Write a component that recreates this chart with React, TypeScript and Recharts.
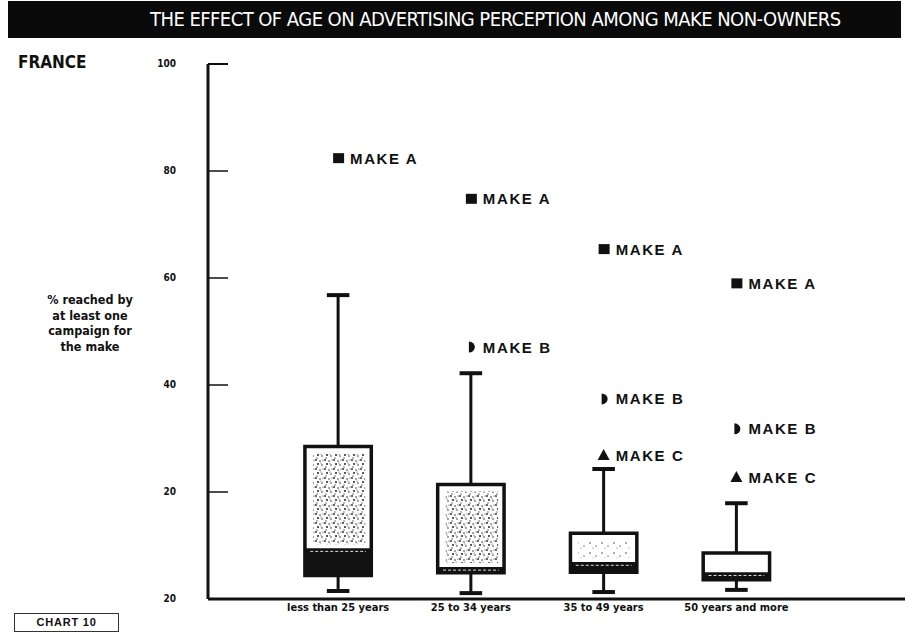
import { ComposedChart, XAxis, YAxis, Scatter, ReferenceArea, ReferenceLine } from 'recharts';

const ageGroups = ['less than 25 years', '25 to 34 years', '35 to 49 years', '50 years and more'];
const whiskerLow = [1.5, 1.1, 1.3, 1.7];
const boxLow = [4.4, 4.9, 5.0, 3.6];
const boxMid = [9.5, 6.0, 6.9, 5.0];
const boxHigh = [28.5, 21.4, 12.3, 8.6];
const whiskerHigh = [56.8, 42.2, 24.3, 17.9];

const makeNames = ['MAKE A', 'MAKE B', 'MAKE C'];
const makeA = [82.4, 74.8, 65.4, 59.0];
const makeB = [null, 47.1, 37.4, 31.8];
const makeC = [null, null, 26.9, 22.8];

const yTicks = [0, 20, 40, 60, 80, 100];
const yTickLabels = ['20', '20', '40', '60', '80', '100'];

// texture of the upper part of each box (print stipple)
const boxTexture = ['url(#dense)', 'url(#dense)', 'url(#light)', 'url(#sparse)'];

const toPoints = (vals: (number | null)[]) =>
  vals.map((v, i) => (v == null ? null : { x: i + 1, y: v })).filter(Boolean) as { x: number; y: number }[];

const condensed = '"DejaVu Sans Condensed", "DejaVu Sans", sans-serif';
const arial = '"Liberation Sans", Arial, sans-serif';

function markerLabel(kind: number) {
  return (props: any) => {
    const { cx, cy } = props;
    let mark;
    if (kind === 0) mark = <rect x={cx - 5} y={cy - 5} width={11} height={10} fill="#111" />;
    else if (kind === 1)
      mark = <path d={`M${cx - 2},${cy - 5.5} A6,5.5 0 0 1 ${cx - 2},${cy + 5.5} Z`} fill="#111" />;
    else mark = <path d={`M${cx - 6},${cy + 5} L${cx + 6},${cy + 5} L${cx},${cy - 6} Z`} fill="#111" />;
    return (
      <g>
        {mark}
        <text x={cx + 12} y={cy + 5.5} fontFamily={arial} fontWeight="bold" fontSize={15} letterSpacing={1.6} fill="#111">
          {makeNames[kind]}
        </text>
      </g>
    );
  };
}

function YTick(props: any) {
  const { x, y, payload } = props;
  const i = yTicks.indexOf(payload.value);
  return (
    <g>
      {payload.value !== 0 && <line x1={x} x2={x + 20} y1={y} y2={y} stroke="#111" strokeWidth={1.5} />}
      <text x={x - 32} y={y + 3} textAnchor="end" fontFamily={condensed} fontWeight="bold" fontSize={10} fill="#111">
        {yTickLabels[i]}
      </text>
    </g>
  );
}

function XTick(props: any) {
  const { x, y, payload } = props;
  return (
    <text x={x} y={y + 10} textAnchor="middle" fontFamily={condensed} fontWeight="bold" fontSize={11} fill="#111">
      {ageGroups[payload.value - 1]}
    </text>
  );
}

function UpperBox(fill: string) {
  return (props: any) => {
    const { x, y, width, height } = props;
    return (
      <g>
        <rect x={x} y={y} width={width} height={height} fill="#fff" />
        <rect x={x + 8} y={y + 7} width={Math.max(0, width - 14)} height={Math.max(0, height - 11)} fill={fill} />
      </g>
    );
  };
}

export default function App() {
  const hw = 0.25;
  const cap = 0.085;
  return (
    <div style={{ position: 'relative', width: 909, height: 638, background: '#fff' }}>
      <style>{`body{margin:0}`}</style>
      <div
        style={{
          position: 'absolute', left: 8, top: 1, width: 893, height: 37, background: '#0a0a0a',
        }}
      />
      <div
        style={{
          position: 'absolute', left: 150, top: 7, color: '#fff', fontFamily: condensed, fontSize: 20,
          whiteSpace: 'nowrap', letterSpacing: -0.55,
        }}
      >
        THE EFFECT OF AGE ON ADVERTISING PERCEPTION AMONG MAKE NON-OWNERS
      </div>
      <div style={{ position: 'absolute', left: 18, top: 52, fontFamily: condensed, fontWeight: 'bold', fontSize: 17, color: '#111' }}>
        FRANCE
      </div>
      <div
        style={{
          position: 'absolute', left: 40, top: 292, width: 100, textAlign: 'center', fontFamily: condensed,
          fontWeight: 'bold', fontSize: 12.5, lineHeight: '15.5px', color: '#111',
        }}
      >
        % reached by<br />at least one<br />campaign for<br />the make
      </div>
      <div
        style={{
          position: 'absolute', left: 14, top: 613, width: 103, height: 17, border: '1px solid #333',
          textAlign: 'center', fontFamily: arial, fontWeight: 'bold', fontSize: 11, lineHeight: '17px',
          letterSpacing: 0.8, color: '#111',
        }}
      >
        CHART 10
      </div>
      <div style={{ position: 'absolute', left: 0, top: 0 }}>
        <ComposedChart width={909} height={638} margin={{ top: 64, right: 4, bottom: 9, left: 148 }}>
          <defs>
            <pattern id="dense" width="9" height="9" patternUnits="userSpaceOnUse">
              <rect width="9" height="9" fill="#fff" />
              <circle cx="1" cy="1" r="0.9" fill="#222" />
              <circle cx="5" cy="2" r="0.8" fill="#333" />
              <circle cx="3" cy="5" r="1" fill="#222" />
              <circle cx="7" cy="6" r="0.8" fill="#333" />
              <circle cx="2" cy="8" r="0.7" fill="#444" />
              <circle cx="6" cy="4" r="0.6" fill="#444" />
              <circle cx="8" cy="1" r="0.6" fill="#333" />
            </pattern>
            <pattern id="light" width="12" height="10" patternUnits="userSpaceOnUse">
              <rect width="12" height="10" fill="#fff" />
              <circle cx="2" cy="3" r="0.8" fill="#444" />
              <circle cx="8" cy="6" r="0.7" fill="#555" />
              <circle cx="5" cy="8" r="0.6" fill="#666" />
            </pattern>
            <pattern id="sparse" width="16" height="12" patternUnits="userSpaceOnUse">
              <rect width="16" height="12" fill="#fff" />
              <circle cx="4" cy="5" r="0.6" fill="#777" />
            </pattern>
          </defs>
          <XAxis
            type="number"
            dataKey="x"
            domain={[0.02, 5.27]}
            ticks={[1, 2, 3, 4]}
            allowDataOverflow
            height={30}
            axisLine={{ stroke: '#111', strokeWidth: 3 }}
            tickLine={false}
            tickSize={0}
            tick={<XTick />}
          />
          <YAxis
            type="number"
            dataKey="y"
            domain={[0, 100]}
            ticks={yTicks}
            width={60}
            axisLine={{ stroke: '#111', strokeWidth: 3 }}
            tickLine={false}
            tickSize={0}
            tickMargin={0}
            tick={<YTick />}
          />
          <ReferenceLine segment={[{ x: 0.02, y: 100 }, { x: 0.17, y: 100 }]} stroke="#111" strokeWidth={2} />
          {ageGroups.map((_, i) => {
            const c = i + 1;
            return [
              <ReferenceLine key={`wh${i}`} segment={[{ x: c, y: boxHigh[i] }, { x: c, y: whiskerHigh[i] }]} stroke="#111" strokeWidth={3} />,
              <ReferenceLine key={`wl${i}`} segment={[{ x: c, y: whiskerLow[i] }, { x: c, y: boxLow[i] }]} stroke="#111" strokeWidth={3} />,
              <ReferenceLine key={`ch${i}`} segment={[{ x: c - cap, y: whiskerHigh[i] }, { x: c + cap, y: whiskerHigh[i] }]} stroke="#111" strokeWidth={4} />,
              <ReferenceLine key={`cl${i}`} segment={[{ x: c - cap, y: whiskerLow[i] }, { x: c + cap, y: whiskerLow[i] }]} stroke="#111" strokeWidth={4} />,
              <ReferenceArea key={`up${i}`} x1={c - hw} x2={c + hw} y1={boxMid[i]} y2={boxHigh[i]} shape={UpperBox(boxTexture[i])} />,
              <ReferenceArea key={`lo${i}`} x1={c - hw} x2={c + hw} y1={boxLow[i]} y2={boxMid[i]} fill="#111" fillOpacity={1} />,
              <ReferenceLine key={`md${i}`} segment={[{ x: c - hw + 0.04, y: boxMid[i] - 0.6 }, { x: c + hw - 0.04, y: boxMid[i] - 0.6 }]} stroke="#ddd" strokeWidth={1} strokeDasharray="3 2" />,
              <ReferenceArea key={`ol${i}`} x1={c - hw} x2={c + hw} y1={boxLow[i]} y2={boxHigh[i]} fill="none" stroke="#111" strokeWidth={3.5} />,
            ];
          })}
          <Scatter data={toPoints(makeA)} isAnimationActive={false} shape={markerLabel(0)} />
          <Scatter data={toPoints(makeB)} isAnimationActive={false} shape={markerLabel(1)} />
          <Scatter data={toPoints(makeC)} isAnimationActive={false} shape={markerLabel(2)} />
        </ComposedChart>
      </div>
    </div>
  );
}
